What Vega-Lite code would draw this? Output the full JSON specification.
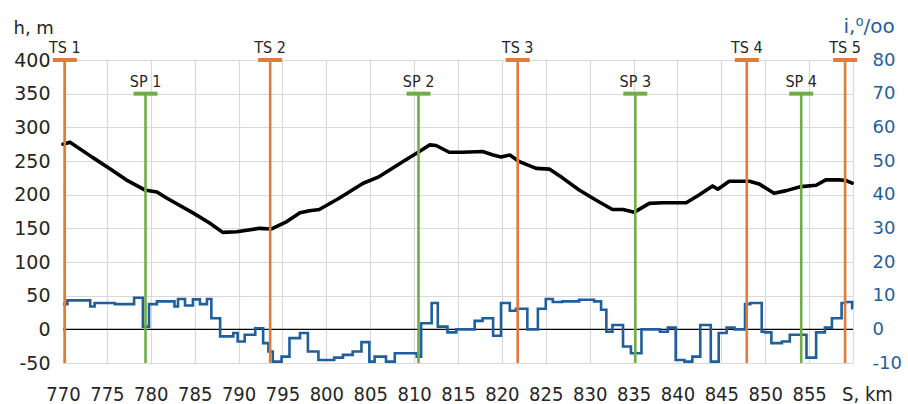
{
  "$schema": "https://vega.github.io/schema/vega-lite/v6.json",
  "width": 790,
  "height": 303,
  "autosize": "none",
  "padding": {"left": 63, "top": 60, "right": 55, "bottom": 41},
  "background": "white",
  "config": {
    "view": {"stroke": null},
    "axis": {"domain": false, "ticks": false, "tickSize": 0, "gridColor": "#d9d9d9", "gridWidth": 1.2, "labelOverlap": false, "labelFlush": false}
  },
  "datasets": {
    "elev": [
      {"km": 770.0, "h": 275}, {"km": 770.8, "h": 278}, {"km": 773.4, "h": 255}, {"km": 775.3, "h": 239},
      {"km": 777.2, "h": 222}, {"km": 779.3, "h": 207}, {"km": 780.7, "h": 204}, {"km": 781.8, "h": 195},
      {"km": 784.8, "h": 173}, {"km": 786.7, "h": 158}, {"km": 788.2, "h": 144}, {"km": 789.8, "h": 145},
      {"km": 792.4, "h": 150}, {"km": 793.7, "h": 149}, {"km": 795.5, "h": 160}, {"km": 797.0, "h": 173},
      {"km": 798.1, "h": 176}, {"km": 799.2, "h": 178}, {"km": 801.5, "h": 195}, {"km": 804.2, "h": 217},
      {"km": 805.9, "h": 226}, {"km": 808.7, "h": 249}, {"km": 810.6, "h": 264}, {"km": 811.8, "h": 274},
      {"km": 812.5, "h": 273}, {"km": 814.0, "h": 263}, {"km": 815.5, "h": 263}, {"km": 817.8, "h": 264},
      {"km": 819.0, "h": 259}, {"km": 819.9, "h": 256}, {"km": 820.9, "h": 259}, {"km": 822.0, "h": 249},
      {"km": 823.9, "h": 239}, {"km": 825.4, "h": 238}, {"km": 826.9, "h": 225}, {"km": 828.8, "h": 207},
      {"km": 830.7, "h": 192}, {"km": 832.6, "h": 178}, {"km": 833.8, "h": 178}, {"km": 835.1, "h": 174},
      {"km": 836.8, "h": 187}, {"km": 838.3, "h": 188}, {"km": 841.0, "h": 188}, {"km": 842.5, "h": 200},
      {"km": 844.0, "h": 213}, {"km": 844.6, "h": 208}, {"km": 845.9, "h": 220}, {"km": 848.2, "h": 220},
      {"km": 849.3, "h": 216}, {"km": 851.0, "h": 202}, {"km": 852.4, "h": 206}, {"km": 854.1, "h": 212},
      {"km": 855.8, "h": 214}, {"km": 856.9, "h": 222}, {"km": 858.4, "h": 222}, {"km": 859.2, "h": 221},
      {"km": 859.9, "h": 217}
    ],
    "grad": [
      {"km": 770.0, "i": 7.5}, {"km": 770.5, "i": 8.6}, {"km": 773.1, "i": 6.8}, {"km": 773.6, "i": 7.8},
      {"km": 775.9, "i": 7.5}, {"km": 778.1, "i": 9.4}, {"km": 779.1, "i": 0.8}, {"km": 779.8, "i": 7.5},
      {"km": 780.7, "i": 8.3}, {"km": 782.7, "i": 6.8}, {"km": 783.1, "i": 9.0}, {"km": 783.9, "i": 7.1},
      {"km": 784.8, "i": 8.9}, {"km": 785.6, "i": 7.5}, {"km": 786.4, "i": 9.0}, {"km": 786.9, "i": 3.3},
      {"km": 787.9, "i": -2.1}, {"km": 789.4, "i": -1.1}, {"km": 789.9, "i": -3.6}, {"km": 790.7, "i": -1.6},
      {"km": 791.9, "i": 0.3}, {"km": 792.8, "i": -4.1}, {"km": 793.4, "i": -6.6}, {"km": 793.9, "i": -9.6},
      {"km": 794.9, "i": -8.1}, {"km": 795.8, "i": -2.6}, {"km": 797.0, "i": -1.1}, {"km": 797.9, "i": -6.6},
      {"km": 799.1, "i": -9.1}, {"km": 800.9, "i": -8.4}, {"km": 801.9, "i": -7.6}, {"km": 803.0, "i": -6.6},
      {"km": 804.0, "i": -3.8}, {"km": 804.9, "i": -9.6}, {"km": 805.5, "i": -8.1}, {"km": 806.8, "i": -9.6},
      {"km": 807.8, "i": -7.1}, {"km": 810.3, "i": -8.1}, {"km": 810.8, "i": 1.8}, {"km": 812.0, "i": 7.8},
      {"km": 812.7, "i": 0.8}, {"km": 813.8, "i": -0.9}, {"km": 814.8, "i": 0.0}, {"km": 816.9, "i": 2.5},
      {"km": 817.8, "i": 3.3}, {"km": 819.0, "i": -1.9}, {"km": 819.9, "i": 7.8}, {"km": 820.9, "i": 5.5},
      {"km": 821.6, "i": 6.1}, {"km": 822.9, "i": 0.0}, {"km": 824.1, "i": 6.1}, {"km": 825.0, "i": 9.0},
      {"km": 825.8, "i": 8.1}, {"km": 826.9, "i": 8.3}, {"km": 828.8, "i": 8.8}, {"km": 830.5, "i": 8.3},
      {"km": 831.3, "i": 5.8}, {"km": 831.9, "i": -0.7}, {"km": 832.6, "i": 1.3}, {"km": 833.8, "i": -5.1},
      {"km": 834.7, "i": -7.1}, {"km": 835.9, "i": 0.0}, {"km": 838.0, "i": -0.7}, {"km": 838.9, "i": 0.5},
      {"km": 839.8, "i": -9.1}, {"km": 840.8, "i": -9.6}, {"km": 841.7, "i": -8.1}, {"km": 842.6, "i": 1.3},
      {"km": 843.8, "i": -9.6}, {"km": 844.7, "i": -1.1}, {"km": 845.6, "i": 0.5}, {"km": 846.5, "i": 0.0},
      {"km": 847.7, "i": 7.5}, {"km": 848.3, "i": 7.8}, {"km": 849.6, "i": -0.7}, {"km": 850.0, "i": -0.9},
      {"km": 850.7, "i": -4.1}, {"km": 851.9, "i": -3.6}, {"km": 852.8, "i": -1.6}, {"km": 854.7, "i": -8.4},
      {"km": 855.8, "i": -0.9}, {"km": 856.8, "i": 0.5}, {"km": 857.6, "i": 3.3}, {"km": 858.7, "i": 7.8},
      {"km": 859.1, "i": 8.1}, {"km": 859.9, "i": 6.3}, {"km": 860.0, "i": 6.3}
    ],
    "points": [
      {"name": "TS 1", "type": "TS", "km": 770.2, "top": 400, "bottom": -50},
      {"name": "TS 2", "type": "TS", "km": 793.6, "top": 400, "bottom": -50},
      {"name": "TS 3", "type": "TS", "km": 821.8, "top": 400, "bottom": -50},
      {"name": "TS 4", "type": "TS", "km": 847.9, "top": 400, "bottom": -50},
      {"name": "TS 5", "type": "TS", "km": 859.1, "top": 400, "bottom": -50},
      {"name": "SP 1", "type": "SP", "km": 779.4, "top": 350, "bottom": -50},
      {"name": "SP 2", "type": "SP", "km": 810.5, "top": 350, "bottom": -50},
      {"name": "SP 3", "type": "SP", "km": 835.2, "top": 350, "bottom": -50},
      {"name": "SP 4", "type": "SP", "km": 854.1, "top": 350, "bottom": -50}
    ],
    "zero": [{"v": 0}]
  },
  "layer": [
    {
      "data": {"name": "zero"},
      "mark": {"type": "rule", "color": "#000000", "strokeWidth": 1.3},
      "encoding": {
        "y": {"field": "v", "type": "quantitative", "scale": {"domain": [-50, 400], "nice": false, "zero": false},
          "axis": {"values": [-50, 0, 50, 100, 150, 200, 250, 300, 350, 400], "grid": true, "labelOverlap": false,
            "labelExpr": "replace(datum.label, '−', '-')",
            "labelFont": "DejaVu Sans", "labelFontSize": 19, "labelColor": "#262626", "labelPadding": 13,
            "title": "h, m", "titleAngle": 0, "titleX": -50, "titleY": -27, "titleAlign": "left", "titleBaseline": "alphabetic",
            "titleFont": "DejaVu Sans", "titleFontSize": 18, "titleFontWeight": "normal", "titleColor": "#262626"}}
      }
    },
    {
      "data": {"name": "grad"},
      "mark": {"type": "line", "interpolate": "step-after", "color": "#1F5F9E", "strokeWidth": 2.6},
      "encoding": {
        "x": {"field": "km", "type": "quantitative", "scale": {"domain": [770, 860], "nice": false, "zero": false}},
        "y": {"field": "i", "type": "quantitative", "scale": {"domain": [-10, 80], "nice": false, "zero": false},
          "axis": {"orient": "right", "values": [-10, 0, 10, 20, 30, 40, 50, 60, 70, 80], "grid": false, "labelOverlap": false,
            "labelExpr": "replace(datum.label, '−', '-')",
            "labelFont": "DejaVu Sans", "labelFontSize": 18, "labelColor": "#1F5F9E", "labelPadding": 19,
            "title": "i,⁰/oo", "titleAngle": 0, "titleX": -10, "titleY": -28, "titleAlign": "left", "titleBaseline": "alphabetic",
            "titleFont": "DejaVu Sans", "titleFontSize": 20, "titleFontWeight": "normal", "titleColor": "#1F5F9E"}}
      }
    },
    {
      "data": {"name": "elev"},
      "mark": {"type": "line", "color": "#000000", "strokeWidth": 3.6, "strokeJoin": "round", "strokeCap": "round"},
      "encoding": {
        "x": {"field": "km", "type": "quantitative", "scale": {"domain": [770, 860], "nice": false, "zero": false},
          "axis": {"values": [770, 775, 780, 785, 790, 795, 800, 805, 810, 815, 820, 825, 830, 835, 840, 845, 850, 855, 860],
            "grid": true, "labelOverlap": false, "labelExpr": "datum.value == 860 ? '' : datum.label",
            "labelFont": "Liberation Sans Narrow, DejaVu Sans Condensed", "labelFontSize": 20, "labelColor": "#262626",
            "labelBaseline": "alphabetic", "labelPadding": 37,
            "title": "S, km", "titleX": 804, "titleY": 37, "titleAlign": "center", "titleBaseline": "alphabetic",
            "titleFont": "Liberation Sans Narrow, DejaVu Sans Condensed", "titleFontSize": 20, "titleFontWeight": "normal", "titleColor": "#262626"}},
        "y": {"field": "h", "type": "quantitative", "scale": {"domain": [-50, 400], "nice": false, "zero": false}, "axis": null}
      }
    },
    {
      "data": {"name": "points"},
      "mark": {"type": "rule", "strokeWidth": 2.6},
      "encoding": {
        "x": {"field": "km", "type": "quantitative", "scale": {"domain": [770, 860], "nice": false, "zero": false}},
        "y": {"field": "top", "type": "quantitative", "scale": {"domain": [-50, 400], "nice": false, "zero": false}, "axis": null},
        "y2": {"field": "bottom"},
        "color": {"field": "type", "type": "nominal", "scale": {"domain": ["TS", "SP"], "range": ["#E07B39", "#70AD47"]}, "legend": null}
      }
    },
    {
      "data": {"name": "points"},
      "mark": {"type": "tick", "orient": "horizontal", "size": 24, "thickness": 4, "opacity": 1},
      "encoding": {
        "x": {"field": "km", "type": "quantitative", "scale": {"domain": [770, 860], "nice": false, "zero": false}},
        "y": {"field": "top", "type": "quantitative", "scale": {"domain": [-50, 400], "nice": false, "zero": false}, "axis": null},
        "color": {"field": "type", "type": "nominal", "scale": {"domain": ["TS", "SP"], "range": ["#E07B39", "#70AD47"]}, "legend": null}
      }
    },
    {
      "data": {"name": "points"},
      "mark": {"type": "text", "baseline": "alphabetic", "align": "center", "dy": -7, "font": "Liberation Sans Narrow, DejaVu Sans Condensed", "fontSize": 16, "color": "#262626"},
      "encoding": {
        "x": {"field": "km", "type": "quantitative", "scale": {"domain": [770, 860], "nice": false, "zero": false}},
        "y": {"field": "top", "type": "quantitative", "scale": {"domain": [-50, 400], "nice": false, "zero": false}, "axis": null},
        "text": {"field": "name", "type": "nominal"}
      }
    }
  ],
  "resolve": {"scale": {"y": "independent"}}
}
